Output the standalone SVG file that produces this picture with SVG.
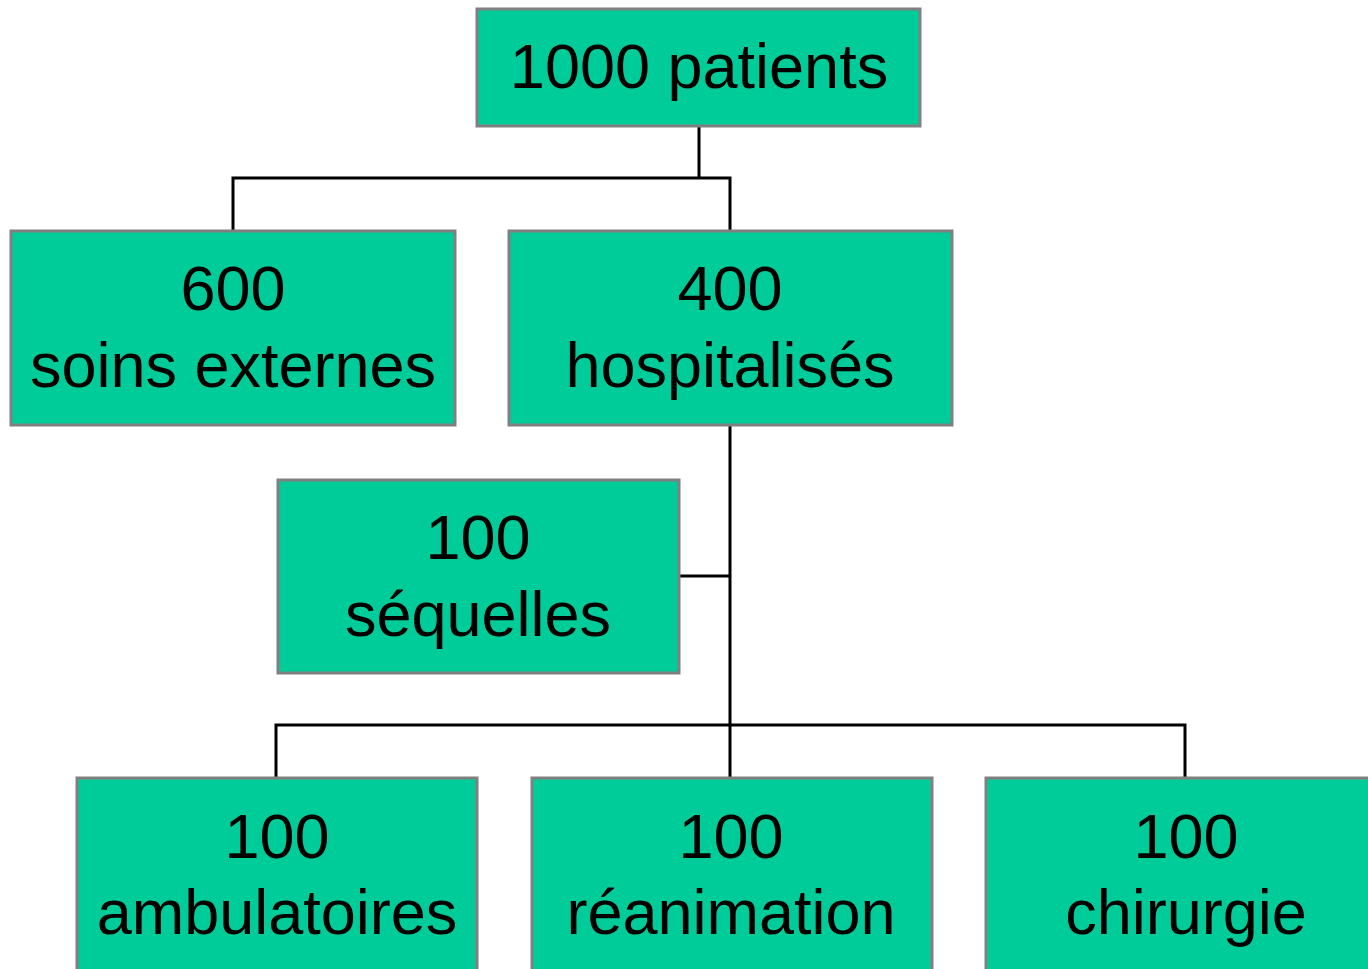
<svg xmlns="http://www.w3.org/2000/svg" width="1368" height="969" viewBox="0 0 1368 969">
<style>
.box{fill:#00CC99;stroke:#808080;stroke-width:3}
.t{font-family:"Liberation Sans",Arial,sans-serif;font-size:63px;fill:#000;text-anchor:middle}
.c{fill:none;stroke:#000;stroke-width:3;stroke-linecap:square}
</style>
<rect width="1368" height="969" fill="#fff"/>
<g id="connectors">
<path class="c" d="M699 127V178M233 178H730M233 178V230M730 178V230"/>
<path class="c" d="M730 426V776M680 576H730"/>
<path class="c" d="M276 725H1185M276 725V777M1185 725V777"/>
</g>
<g id="n1000"><rect class="box" x="477" y="9" width="443" height="117"/><text class="t" x="699" y="88">1000 patients</text></g>
<g id="n600"><rect class="box" x="11" y="231" width="444" height="194"/><text class="t" x="233" y="310">600</text><text class="t" x="233" y="387">soins externes</text></g>
<g id="n400"><rect class="box" x="509" y="231" width="443" height="194"/><text class="t" x="730" y="310">400</text><text class="t" x="730" y="387">hospitalisés</text></g>
<g id="nseq"><rect class="box" x="278" y="480" width="401" height="193"/><text class="t" x="478" y="559">100</text><text class="t" x="478" y="636">séquelles</text></g>
<g id="namb"><rect class="box" x="77" y="778" width="400" height="200"/><text class="t" x="277" y="858">100</text><text class="t" x="277" y="934">ambulatoires</text></g>
<g id="nrea"><rect class="box" x="532" y="778" width="400" height="200"/><text class="t" x="731" y="858">100</text><text class="t" x="731" y="934">réanimation</text></g>
<g id="nchi"><rect class="box" x="986" y="778" width="400" height="200"/><text class="t" x="1186" y="858">100</text><text class="t" x="1186" y="934">chirurgie</text></g>
</svg>
